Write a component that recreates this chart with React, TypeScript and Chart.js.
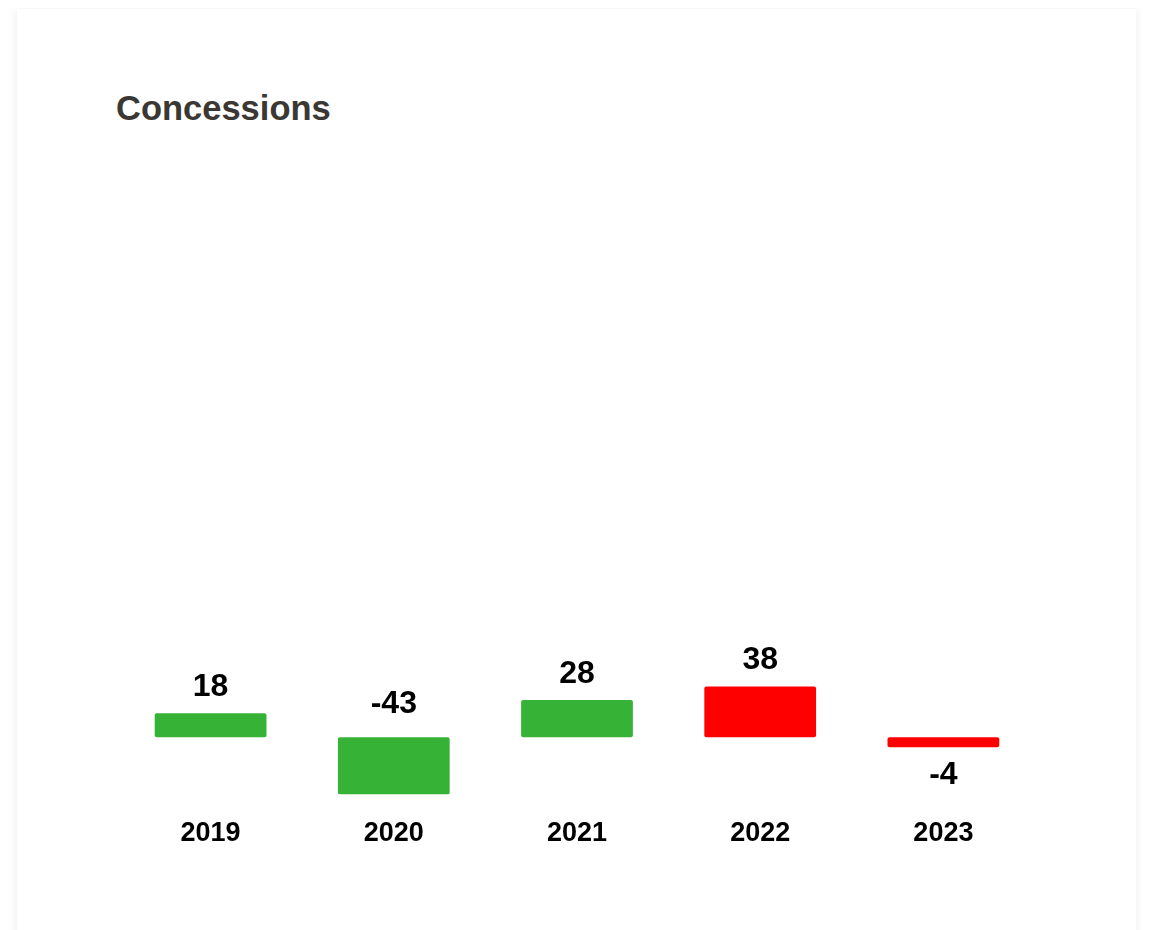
import React, { useEffect, useRef } from "react";
import { Chart, registerables } from "chart.js";

Chart.register(...registerables);

const categories = ["2019", "2020", "2021", "2022", "2023"];
const values = [18, -43, 28, 38, -4];
const barColors = ["#36b236", "#36b236", "#36b236", "#ff0000", "#ff0000"];
const yMin = -43;
const yMax = 400;

const FONT = '"Liberation Sans", Arial, Helvetica, sans-serif';

const valueLabelPlugin = {
  id: "valueLabels",
  afterDatasetsDraw(chart: any) {
    const ctx = chart.ctx;
    const area = chart.chartArea;
    const meta = chart.getDatasetMeta(0);
    ctx.save();
    ctx.font = `bold 32px ${FONT}`;
    ctx.fillStyle = "#000";
    ctx.textAlign = "center";
    ctx.textBaseline = "middle";
    meta.data.forEach((el: any, i: number) => {
      const v = values[i];
      const { x, y, base } = el.getProps(["x", "y", "base"], true);
      const top = Math.min(y, base);
      const bottom = Math.max(y, base);
      let cy: number;
      if (v >= 0) {
        cy = top - 26;
      } else if (bottom + 28 + 16 > area.bottom) {
        cy = top - 33;
      } else {
        cy = bottom + 28;
      }
      ctx.fillText(String(v), x, cy);
    });
    ctx.restore();
  },
};

export default function App() {
  const ref = useRef<HTMLCanvasElement | null>(null);

  useEffect(() => {
    document.documentElement.style.overflow = "hidden";
    const canvas = ref.current;
    if (!canvas) return;
    const chart = new Chart(canvas, {
      type: "bar",
      data: {
        labels: categories,
        datasets: [
          {
            data: values,
            backgroundColor: barColors,
            borderWidth: 0,
            borderRadius: 2,
            borderSkipped: false,
            categoryPercentage: 1,
            barPercentage: 0.61,
            minBarLength: 10,
          },
        ],
      },
      options: {
        responsive: false,
        animation: false,
        layout: { padding: { top: 24, bottom: 7, left: 0, right: 0 } },
        plugins: {
          legend: { display: false },
          tooltip: { enabled: false },
          title: { display: false },
        },
        scales: {
          x: {
            grid: { display: false, drawTicks: false },
            border: { display: false },
            ticks: {
              padding: 23,
              color: "#000",
              font: { family: FONT, size: 27, weight: "bold" },
            },
          },
          y: {
            display: false,
            min: yMin,
            max: yMax,
          },
        },
      },
      plugins: [valueLabelPlugin],
    });
    return () => chart.destroy();
  }, []);

  return (
    <div
      style={{
        position: "relative",
        top: 1,
        marginLeft: 9,
        width: 1119,
        height: 940,
        background: "#fff",
        boxShadow: "0 0 10px rgba(0,0,0,0.08)",
      }}
    >
      <div
        style={{
          position: "absolute",
          left: 99,
          top: 79,
          fontFamily: FONT,
          fontWeight: "bold",
          fontSize: 34.5,
          lineHeight: "40px",
          color: "#3b3733",
          whiteSpace: "nowrap",
        }}
      >
        Concessions
      </div>
      <canvas
        ref={ref}
        width={916}
        height={700}
        style={{ position: "absolute", left: 102, top: 171, display: "block" }}
      />
    </div>
  );
}
